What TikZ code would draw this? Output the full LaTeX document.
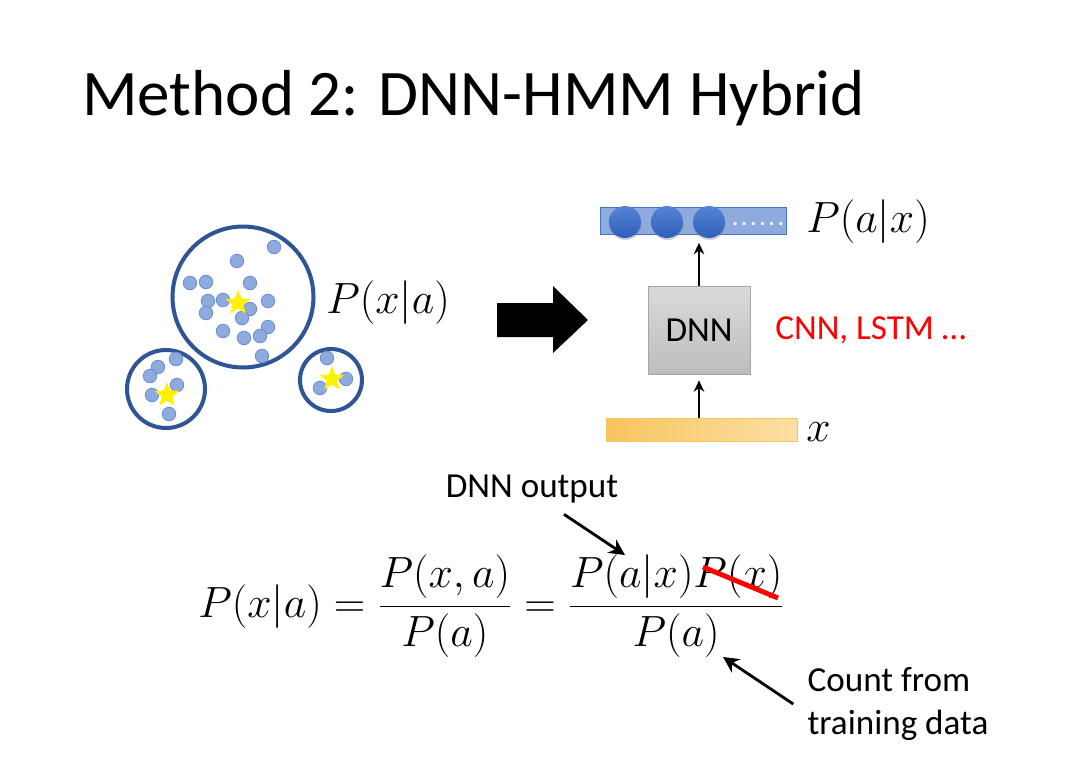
\documentclass[tikz,border=0pt]{standalone}
\usepackage{fontspec}
\setmainfont{Carlito}
\usetikzlibrary{shapes.geometric, arrows.meta, shadows}

\definecolor{dotfill}{HTML}{8FAADC}
\definecolor{dotedge}{HTML}{6D8FD2}
\definecolor{ringblue}{HTML}{2F5597}
\definecolor{barline}{HTML}{4472C4}
\definecolor{balltop}{HTML}{5483D6}
\definecolor{ballbot}{HTML}{2F5FBA}
\definecolor{grtop}{HTML}{DADADA}
\definecolor{grbot}{HTML}{BDBDBD}
\definecolor{grline}{HTML}{A6A6A6}
\definecolor{orleft}{HTML}{F8C55E}
\definecolor{orright}{HTML}{FDDFA6}
\definecolor{orline}{HTML}{F6C65A}

\begin{document}
\begin{tikzpicture}[x=0.02cm, y=-0.02cm,
  dot/.style={circle, fill=dotfill, draw=dotedge, line width=0.5pt, minimum size=0.27cm, inner sep=0pt},
  ring/.style={circle, draw=ringblue, line width=2.3pt, inner sep=0pt},
  goldstar/.style={star, star points=5, star point ratio=2.3, fill=yellow, minimum size=0.52cm, inner sep=0pt},
  ball/.style={circle, top color=balltop, bottom color=ballbot, minimum size=0.64cm, inner sep=0pt, drop shadow={opacity=0.35, shadow xshift=0.3pt, shadow yshift=-1.2pt}},
  pointer/.style={-{Stealth[length=9pt, width=9pt]}, line width=1.6pt},
  small/.style={-{Stealth[length=6.5pt, width=6pt]}, line width=1.4pt}
]
\useasboundingbox (0,0) rectangle (1080,779);

%Title
\node[anchor=base west, inner sep=0pt, font=\fontsize{37}{40}\selectfont] (title) at (82,115) {Method 2: DNN-HMM Hybrid};

%Clusters
\node[ring, minimum size=2.82cm] (clusA) at (243,297) {};
\node[ring, minimum size=1.56cm] (clusB) at (166,389) {};
\node[ring, minimum size=1.24cm] (clusC) at (331,380) {};

%%Dots
\foreach \px/\py in {274/247, 237/261, 190/283, 206/282, 250/283, 208/301, 223/300, 268/301,
  206/313, 250/309, 242/318, 223/331, 268/327, 244/338, 260/336, 262/356}
\node[dot] at (\px,\py) {};
\foreach \px/\py in {176/359, 158/367, 150/376, 177/385, 152/395, 169/414}
\node[dot] at (\px,\py) {};
\foreach \px/\py in {327/358, 346/379, 320/388}
\node[dot] at (\px,\py) {};

%%Stars
\node[goldstar] (starA) at (238,303) {};
\node[goldstar] (starB) at (167,395) {};
\node[goldstar] (starC) at (332,379) {};

\node[anchor=west, inner sep=0pt, font=\fontsize{24}{28}\selectfont] (pxa) at (326,303) {$P(x|a)$};

%Big arrow
\fill (497,303) -- (553,303) -- (553,286) -- (588,320) -- (553,353) -- (553,337) -- (497,337) -- cycle;

%Network
\node[draw=barline, fill=dotfill, minimum width=3.72cm, minimum height=0.54cm, inner sep=0pt] (outbar) at (693,221) {};
\node[ball] (b1) at (625,222) {};
\node[ball] (b2) at (667,222) {};
\node[ball] (b3) at (709,222) {};
\node[text=white, font=\bfseries\fontsize{12}{12}\selectfont, inner sep=0pt] (more) at (758,224) {.\,.\,.\,.\,.\,.};
\node[anchor=west, inner sep=0pt, font=\fontsize{24}{28}\selectfont] (pax) at (806,222) {$P(a|x)$};

\node[draw=grline, top color=grtop, bottom color=grbot, minimum width=2.04cm, minimum height=1.76cm, font=\fontsize{20}{22}\selectfont] (dnn) at (699,330) {DNN};
\node[anchor=west, inner sep=0pt, text=red, font=\fontsize{20}{22}\selectfont] (nets) at (775,330) {CNN, LSTM \ldots};

\node[draw=orline, left color=orleft, right color=orright, minimum width=3.82cm, minimum height=0.46cm, inner sep=0pt] (xbar) at (702,430) {};
\node[anchor=west, inner sep=0pt, font=\fontsize{24}{28}\selectfont] (xin) at (806,432) {$x$};

\draw[small, shorten >=0.16cm] (dnn.north) -- (dnn.north |- outbar.south);
\draw[small, shorten >=0.12cm] (xbar.north -| dnn.south) -- (dnn.south);

%Equation
\node[anchor=base west, inner sep=0pt, font=\fontsize{24}{28}\selectfont] (eqn) at (198,617)
  {$\displaystyle P(x|a)=\frac{P(x,a)}{P(a)}=\frac{P(a|x)P(x)}{P(a)}$};
\draw[red, line width=2.8pt] (703,567) -- (778,598);

\node[font=\fontsize{20}{24}\selectfont] (dnnout) at (532,489) {DNN output};
\coordinate (aTip) at (625,555);
\draw[pointer] ([xshift=0.64cm, yshift=-0.1cm]dnnout.south) -- (aTip);

\node[align=left, inner sep=0pt, font=\fontsize{20}{24}\selectfont] (countlbl) at (898,704) {Count from\\training data};
\coordinate (pTip) at (723,657);
\draw[pointer] ([xshift=-0.28cm]countlbl.west) -- (pTip);

\end{tikzpicture}
\end{document}
